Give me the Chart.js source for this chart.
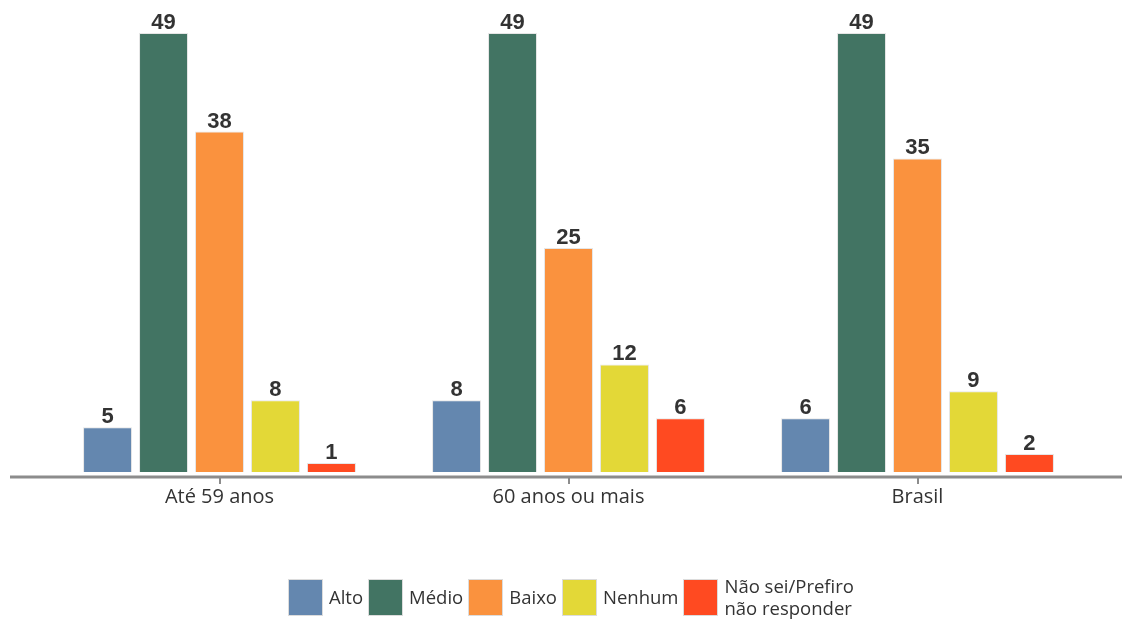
<!DOCTYPE html>
<html>
<head>
<meta charset="utf-8">
<script src="https://cdn.jsdelivr.net/npm/chart.js@4.4.1/dist/chart.umd.min.js"></script>
<style>
  html, body { margin: 0; padding: 0; background: #fff; }
  #wrap { position: relative; width: 1122px; height: 620px; overflow: hidden; }
  #legend { position: absolute; left: 288px; top: 575px; display: flex; align-items: center;
            font-family: "Open Sans", sans-serif; font-size: 18.5px; color: #333; }
  #legend .item { display: flex; align-items: center; margin-right: 5px; }
  #legend .box { width: 35px; height: 37px; border: 1px solid #dcdcdc; box-sizing: border-box; margin-right: 6px; }
  #legend .txt { line-height: 22px; }
</style>
</head>
<body>
<div id="wrap">
  <canvas id="myChart" width="1122" height="620"></canvas>
  <div id="legend"></div>
</div>
<script>
// categories and series
const categories = ['Até 59 anos', '60 anos ou mais', 'Brasil'];
const seriesNames = ['Alto', 'Médio', 'Baixo', 'Nenhum', 'Não sei/Prefiro\nnão responder'];
const alto = [5, 8, 6];
const medio = [49, 49, 49];
const baixo = [38, 25, 35];
const nenhum = [8, 12, 9];
const naoSei = [1, 6, 2];
const colors = ['#6487AF', '#427463', '#FA923E', '#E3D837', '#FF4A21'];

document.addEventListener('DOMContentLoaded', () => {

  const values = [alto, medio, baixo, nenhum, naoSei];

  // value labels above each bar
  const valueLabels = {
    id: 'valueLabels',
    afterDatasetsDraw(chart) {
      const ctx = chart.ctx;
      ctx.save();
      ctx.font = 'bold 22px "Liberation Sans", Arial, sans-serif';
      ctx.fillStyle = '#333';
      ctx.textAlign = 'center';
      ctx.textBaseline = 'alphabetic';
      chart.data.datasets.forEach((ds, i) => {
        chart.getDatasetMeta(i).data.forEach((bar, j) => {
          ctx.fillText(ds.data[j], bar.x, bar.y - 4);
        });
      });
      ctx.restore();
    }
  };

  // long gray baseline with small ticks under each category
  const baseLine = {
    id: 'baseLine',
    afterDraw(chart) {
      const ctx = chart.ctx;
      const xs = chart.scales.x;
      const y = chart.chartArea.bottom + 5;
      ctx.save();
      ctx.strokeStyle = '#8c8c8c';
      ctx.lineWidth = 3;
      ctx.beginPath();
      ctx.moveTo(10, y);
      ctx.lineTo(chart.width, y);
      ctx.stroke();
      ctx.lineWidth = 2;
      categories.forEach((c, i) => {
        const x = Math.round(xs.getPixelForTick(i));
        ctx.beginPath();
        ctx.moveTo(x, y);
        ctx.lineTo(x, y + 7);
        ctx.stroke();
      });
      ctx.restore();
    }
  };

  const ctx = document.getElementById('myChart');

  new Chart(ctx, {
    type: 'bar',
    data: {
      labels: categories,
      datasets: seriesNames.map((name, i) => ({
        label: name,
        data: values[i],
        backgroundColor: colors[i],
        borderColor: '#e6e6e6',
        borderWidth: 1,
        categoryPercentage: 0.802,
        barPercentage: 0.875
      }))
    },
    options: {
      responsive: false,
      animation: false,
      layout: { padding: { top: 33, left: 45, right: 30, bottom: 108 } },
      plugins: {
        legend: { display: false },
        tooltip: { enabled: false }
      },
      scales: {
        x: {
          grid: { display: false, drawTicks: false },
          border: { display: false },
          ticks: {
            padding: 13,
            color: '#333',
            font: { family: '"Open Sans", sans-serif', size: 20 }
          },
          afterFit(scale) { scale.height = 40; }
        },
        y: {
          display: false,
          min: 0,
          max: 49
        }
      }
    },
    plugins: [valueLabels, baseLine]
  });

  // html legend, last label on two lines
  const legend = document.getElementById('legend');
  seriesNames.forEach((name, i) => {
    const item = document.createElement('div');
    item.className = 'item';
    const box = document.createElement('div');
    box.className = 'box';
    box.style.background = colors[i];
    const txt = document.createElement('div');
    txt.className = 'txt';
    txt.innerHTML = name.replace('\n', '<br>');
    item.appendChild(box);
    item.appendChild(txt);
    legend.appendChild(item);
  });

});
</script>
</body>
</html>
